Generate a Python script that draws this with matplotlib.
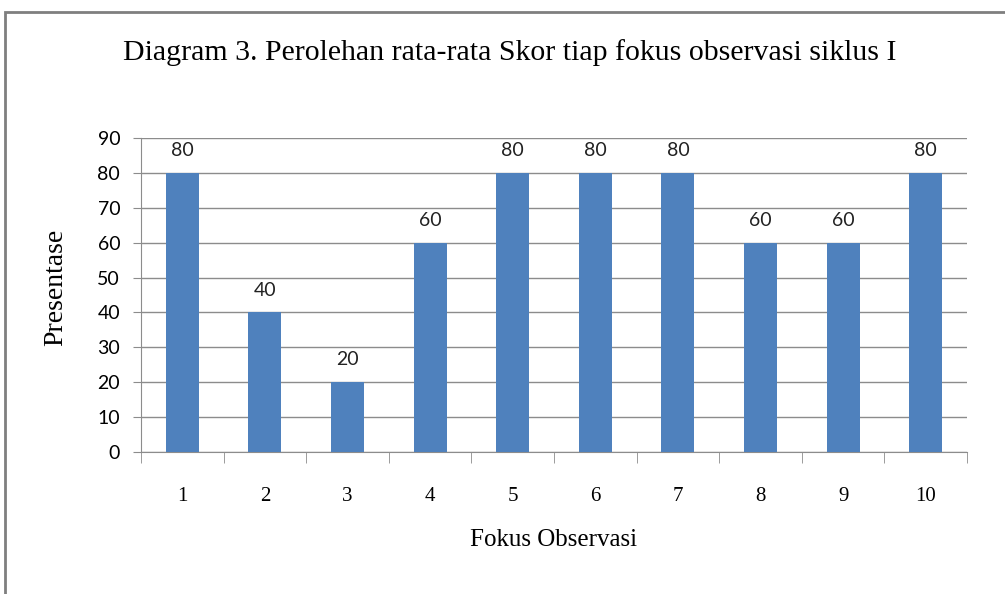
import numpy as np
from matplotlib import pyplot as plt
from matplotlib.patches import Rectangle

# Data
fokus = ["1", "2", "3", "4", "5", "6", "7", "8", "9", "10"]
skor = [80, 40, 20, 60, 80, 80, 80, 60, 60, 80]
y_ticks = [0, 10, 20, 30, 40, 50, 60, 70, 80, 90]

serif = "Liberation Serif"
sans = "Lato"
grid_color = "#8c8c8c"
bar_color = "#4f81bd"

fig = plt.figure(figsize=(10.05, 5.94), dpi=100)

# outer frame (only top and left edges visible in the reference)
fig.patches.append(Rectangle((5 / 1005, -0.1), 1.2, (594 - 12) / 594 + 0.1,
                             transform=fig.transFigure, fill=False,
                             edgecolor="#7f7f7f", linewidth=2))

ax = fig.add_axes([141 / 1005, 1 - 452 / 594, (967 - 141) / 1005, (452 - 138) / 594])

x = np.arange(len(fokus))
bars = ax.bar(x, skor, width=0.4, color=bar_color, zorder=3)

for rect, val in zip(bars, skor):
    ax.annotate(str(val), (rect.get_x() + rect.get_width() / 2, val),
                xytext=(0, 10), textcoords="offset points",
                ha="center", va="bottom", fontsize=14, family=sans, color="#222222")

ax.set_xlim(-0.5, len(fokus) - 0.5)
ax.set_ylim(0, 90)
ax.set_yticks(y_ticks)
ax.set_yticklabels([str(t) for t in y_ticks], family=sans, fontsize=14)
ax.yaxis.grid(True, color=grid_color, linewidth=1, zorder=0)

# category labels centred, tick marks between categories
ax.set_xticks(x)
ax.set_xticklabels(fokus, family=serif, fontsize=15)
ax.tick_params(axis="x", length=0, pad=25)
ax.set_xticks(np.arange(-0.5, len(fokus)), minor=True)
ax.tick_params(axis="x", which="minor", length=8, color=grid_color)
ax.tick_params(axis="y", length=6, color=grid_color, pad=9)

for side in ["top", "right"]:
    ax.spines[side].set_visible(False)
ax.spines["left"].set_color(grid_color)
ax.spines["bottom"].set_color(grid_color)

ax.set_ylabel("Presentase", family=serif, fontsize=20, va="center")
ax.yaxis.set_label_coords(-0.103, 0.525)
ax.set_xlabel("Fokus Observasi", family=serif, fontsize=18, va="center")
ax.xaxis.set_label_coords(0.5, -88 / 314)

fig.text(510 / 1005, 1 - 60 / 594,
         "Diagram 3. Perolehan rata-rata Skor tiap fokus observasi siklus I",
         ha="center", va="baseline", family=serif, fontsize=21.5)

plt.savefig("out.png", dpi=100)
